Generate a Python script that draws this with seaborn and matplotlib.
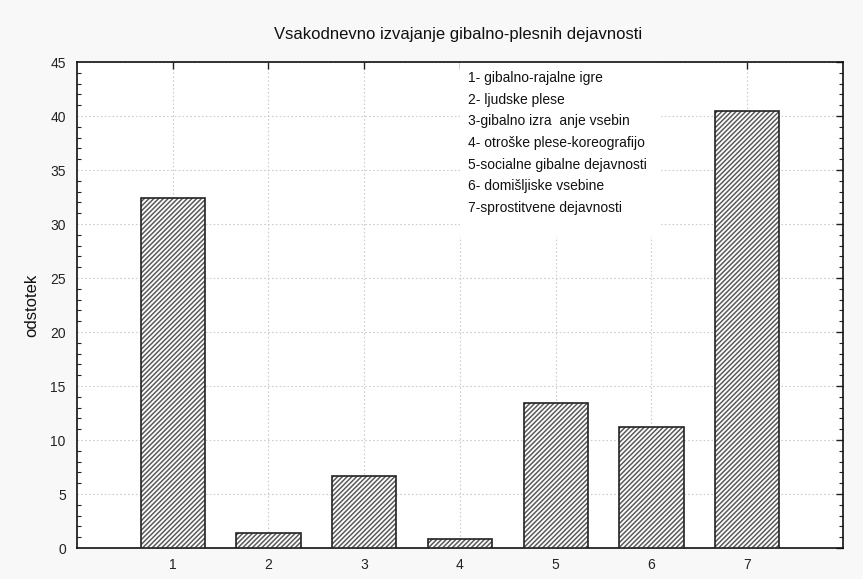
import matplotlib
matplotlib.use("Agg")
import matplotlib.pyplot as plt
import seaborn as sns
import pandas as pd
from matplotlib.ticker import MultipleLocator

categories = [1, 2, 3, 4, 5, 6, 7]
values = [32.4, 1.4, 6.7, 0.85, 13.4, 11.2, 40.5]
legend_lines = [
    "1- gibalno-rajalne igre",
    "2- ljudske plese",
    "3-gibalno izra  anje vsebin",
    "4- otroške plese-koreografijo",
    "5-socialne gibalne dejavnosti",
    "6- domišljiske vsebine",
    "7-sprostitvene dejavnosti",
]
title = "Vsakodnevno izvajanje gibalno-plesnih dejavnosti"
ylabel = "odstotek"

sns.set_style("white")
plt.rcParams["font.family"] = ["Liberation Sans", "DejaVu Sans"]
plt.rcParams["hatch.linewidth"] = 1.1

df = pd.DataFrame({"cat": categories, "val": values})

fig = plt.figure(figsize=(8.63, 5.79), dpi=100, facecolor="#f8f8f8")
ax = fig.add_axes([0.0892, 0.0535, 0.8876, 0.8394])
ax.set_facecolor("white")

sns.barplot(data=df, x="cat", y="val", native_scale=True, width=0.67,
            color="white", edgecolor="#5a5a5a", linewidth=0, hatch="///////",
            ax=ax, zorder=2)
sns.barplot(data=df, x="cat", y="val", native_scale=True, width=0.67,
            fill=False, edgecolor="#222222", linewidth=1.2, ax=ax, zorder=3)
for p in ax.patches:
    p.set_zorder(3)

ax.set_xlim(0, 8)
ax.set_ylim(0, 45)
ax.set_xticks(categories)
ax.set_xticklabels([str(c) for c in categories])
ax.yaxis.set_major_locator(MultipleLocator(5))
ax.yaxis.set_minor_locator(MultipleLocator(1))
ax.grid(True, which="major", linestyle=(0, (1.5, 2)), color="#cccccc", linewidth=0.8, zorder=0)
ax.set_axisbelow(True)

ax.tick_params(axis="both", which="major", direction="in", length=5, width=1,
               labelsize=10, top=True, right=True, colors="#222222", labelcolor="#222222")
ax.tick_params(axis="y", which="minor", direction="in", length=3, width=0.8,
               left=True, right=True, colors="#222222")
ax.tick_params(axis="x", pad=7)
ax.tick_params(axis="y", pad=8)
for s in ax.spines.values():
    s.set_visible(True)
    s.set_color("#111111")
    s.set_linewidth(1.2)

ax.set_xlabel("")
ax.set_ylabel(ylabel, fontsize=12, labelpad=8, color="#111111")
fig.text(0.531, 0.94, title, ha="center", va="center", fontsize=12, color="#111111")

# white box with legend text
box = plt.Rectangle((4.0, 28.8), 2.1, 16.2, transform=ax.transData,
                    facecolor="white", edgecolor="none", zorder=1)
ax.add_patch(box)
y0 = 43.5
for i, line in enumerate(legend_lines):
    ax.text(4.08, y0 - i * 2.0, line, fontsize=10, va="center", ha="left",
            color="#111111", zorder=4)

fig.savefig("out.png", dpi=100, facecolor=fig.get_facecolor())
